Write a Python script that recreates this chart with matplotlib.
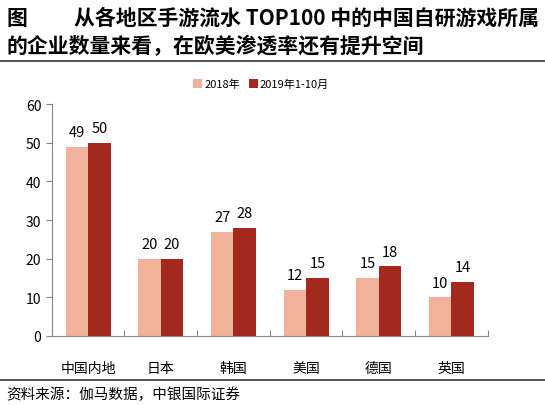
import numpy as np
import matplotlib.pyplot as plt

plt.rcParams['font.family'] = ['Noto Sans CJK SC', 'DejaVu Sans']

# data
regions = ['中国内地', '日本', '韩国', '美国', '德国', '英国']
y2018 = [49, 20, 27, 12, 15, 10]
y2019 = [50, 20, 28, 15, 18, 14]
series_names = ['2018年', '2019年1-10月']

c_pink = '#F2B19A'
c_red = '#A3291F'

fig = plt.figure(figsize=(5.45, 4.06), dpi=100)

# title
fig.text(0.012, 0.955, '图', fontsize=15, fontweight='bold', va='center')
fig.text(0.135, 0.955, '从各地区手游流水 TOP100 中的中国自研游戏所属',
         fontsize=15, fontweight='bold', va='center')
fig.text(0.012, 0.885, '的企业数量来看，在欧美渗透率还有提升空间',
         fontsize=15, fontweight='bold', va='center')
fig.add_artist(plt.Line2D([0, 1], [0.847, 0.847], color='#333333', lw=1.2))
fig.add_artist(plt.Line2D([0, 1], [0.062, 0.062], color='#333333', lw=1.2))
fig.text(0.012, 0.027, '资料来源：伽马数据，中银国际证券', fontsize=10.5,
         style='italic', va='center')

ax = fig.add_axes([0.095, 0.17, 0.80, 0.571])
x = np.arange(len(regions))
w = 0.31
b1 = ax.bar(x - w / 2, y2018, w, color=c_pink, label=series_names[0])
b2 = ax.bar(x + w / 2, y2019, w, color=c_red, label=series_names[1])

for bars in (b1, b2):
    for r in bars:
        ax.text(r.get_x() + r.get_width() / 2, r.get_height() + 2,
                '%d' % r.get_height(), ha='center', va='bottom', fontsize=10.5)

ax.set_xlim(-0.5, len(regions) - 0.5)
ax.set_ylim(0, 60)
ax.set_yticks(range(0, 61, 10))
ax.set_xticks(np.arange(len(regions) + 1) - 0.5, minor=False)
ax.set_xticklabels([])
ax.set_xticks(x, minor=True)
ax.set_xticklabels(regions, minor=True, fontsize=10)
ax.tick_params(axis='x', which='minor', length=0, pad=18)
ax.tick_params(axis='x', which='major', direction='in', length=4, color='#888888')
ax.tick_params(axis='y', direction='out', length=4, color='#888888', labelsize=10)
for s in ('top', 'right'):
    ax.spines[s].set_visible(False)
for s in ('left', 'bottom'):
    ax.spines[s].set_color('#888888')

ax.legend(loc='center', bbox_to_anchor=(0.48, 1.086), ncol=2, frameon=False,
          fontsize=8, handlelength=0.8, handleheight=0.8, handletextpad=0.2,
          columnspacing=0.8)

fig.savefig('out.png', dpi=100)
